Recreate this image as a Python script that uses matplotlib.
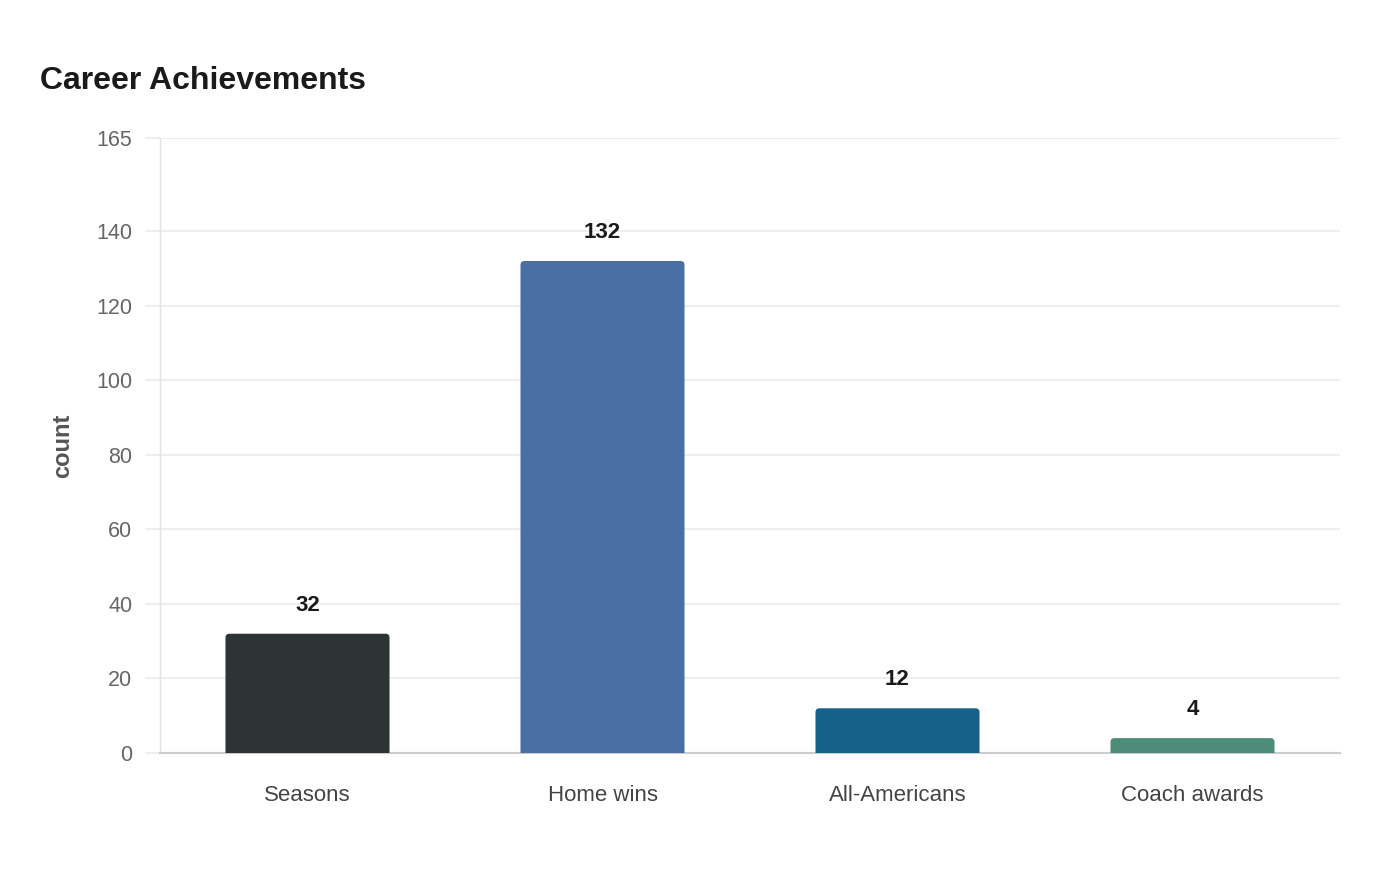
import matplotlib.pyplot as plt
from matplotlib.patches import FancyBboxPatch

plt.rcParams['font.family'] = ['Liberation Sans', 'DejaVu Sans']

categories = ['Seasons', 'Home wins', 'All-Americans', 'Coach awards']
counts = [32, 132, 12, 4]
colors = ['#2d3436', '#4a6fa5', '#176087', '#4e8c7a']
yticks = [0, 20, 40, 60, 80, 100, 120, 140, 165]

fig = plt.figure(figsize=(14, 8.8), dpi=100)
ax = fig.add_axes([160 / 1400, 1 - 753 / 880, 1180 / 1400, 615 / 880])

bars = ax.bar(range(len(categories)), counts, width=0.556, color=colors)

# swap the plain bars for ones with rounded top corners
r = 0.0136
aspect = 79
for b in bars:
    b.set_visible(False)
    p = FancyBboxPatch((b.get_x(), -3), b.get_width(), b.get_height() + 3,
                       boxstyle=f"round,pad=0,rounding_size={r}",
                       mutation_aspect=aspect, facecolor=b.get_facecolor(),
                       edgecolor='none', zorder=3, clip_on=True)
    ax.add_patch(p)

for i, v in enumerate(counts):
    ax.annotate(str(v), (i, v), xytext=(0, 20.5), textcoords='offset points',
                ha='center', va='center', fontsize=16, fontweight='bold',
                color='#1a1a1a')

ax.set_xlim(-0.5, 3.5)
ax.set_ylim(0, 165)
ax.set_yticks(yticks)
ax.set_xticks(range(len(categories)))
ax.set_xticklabels(categories)
ax.grid(axis='y', color='#eeeeee', linewidth=1.5)
ax.set_axisbelow(True)

for s in ['top', 'right']:
    ax.spines[s].set_visible(False)
ax.spines['left'].set_color('#e3e3e3')
ax.spines['left'].set_linewidth(1)
ax.spines['bottom'].set_color('#cccccc')
ax.spines['bottom'].set_linewidth(1.5)

ax.tick_params(axis='y', length=11, width=1.5, color='#eeeeee', pad=9,
               labelsize=15.5, labelcolor='#666666')
ax.tick_params(axis='x', length=0, pad=23, labelsize=16, labelcolor='#444444')

ax.set_ylabel('count', fontsize=17, fontweight='bold', color='#555555')
ax.yaxis.set_label_coords((74 - 160) / 1180, 0.5)

fig.text(40 / 1400, 1 - 81 / 880, 'Career Achievements', fontsize=23,
         fontweight='bold', color='#1a1a1a', ha='left', va='center')

fig.savefig('out.png', dpi=100)
